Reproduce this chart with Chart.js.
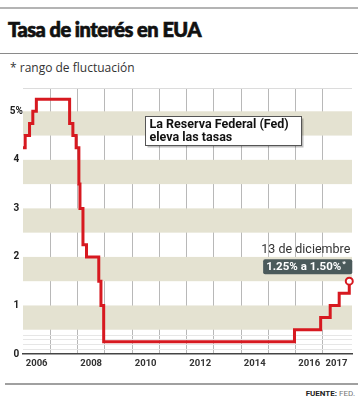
<!DOCTYPE html>
<html>
<head>
<meta charset="utf-8">
<script src="https://cdn.jsdelivr.net/npm/chart.js@4"></script>
<style>
  body { margin: 0; background: #fff; font-family: Roboto, sans-serif; }
  #wrap { position: relative; width: 358px; height: 400px; overflow: hidden; }
  .rule { position: absolute; left: 0; width: 358px; }
  #title { position: absolute; left: 8px; top: 17px; font-family: Lato, sans-serif; font-weight: 900; font-size: 20px; color: #111; letter-spacing: -0.5px; -webkit-text-stroke: 0.7px #111; }
  #sub { position: absolute; left: 10px; top: 59px; font-family: "Open Sans", sans-serif; font-size: 12px; color: #333; }
  #src { position: absolute; right: 3px; top: 389px; font-size: 8px; color: #777; }
  #src b { color: #222; }
  canvas { position: absolute; left: 0; top: 80px; }
</style>
</head>
<body>
<div id="wrap">
  <div class="rule" style="top:7px;height:2px;background:#b4b4b4"></div>
  <div id="title">Tasa de interés en EUA</div>
  <div class="rule" style="top:53px;height:1px;background:#8a8a8a"></div>
  <div id="sub">* rango de fluctuación</div>
  <canvas id="rateChart" width="358" height="300"></canvas>
  <div class="rule" style="left:5px;width:353px;top:383px;height:2px;background:#a0a0a0"></div>
  <div id="src"><b>FUENTE:</b> FED.</div>
</div>
<script>
// fechas de cambio de tasa (año decimal) y tasa objetivo (%)
const rateDates = [2006.0, 2006.08, 2006.24, 2006.36, 2006.49, 2007.71, 2007.83, 2007.95,
    2008.05, 2008.09, 2008.2, 2008.33, 2008.78, 2008.86, 2008.96, 2015.96, 2016.92,
    2017.27, 2017.6, 2017.97];
const rateValues = [4.25, 4.5, 4.75, 5.0, 5.25, 4.75, 4.5, 4.25,
    3.5, 3.0, 2.25, 2.0, 1.5, 1.0, 0.25, 0.5, 0.75,
    1.0, 1.25, 1.5];

const yearGrid = [2007, 2008, 2009, 2010, 2011, 2012, 2013, 2014, 2015, 2016, 2017];
const yearLabels = ['2006', '2008', '2010', '2012', '2014', '2016', '2017'];
const yTicks = [0, 1, 2, 3, 4, 5];
const yTickLabels = ['0', '1', '2', '3', '4', '5%'];
const faintLines = [0.1, 0.2, 0.3, 0.4];

const calloutText = ['La Reserva Federal (Fed)', 'eleva las tasas'];
const calloutAt = { x: 2010.48, y: 4.9 };
const lastDateText = '13 de diciembre';
const lastRangeText = '1.25% a 1.50%';

const points = rateDates.map((d, i) => ({ x: d, y: rateValues[i] }));

// franjas de fondo
const bandsPlugin = {
    id: 'bands',
    beforeDatasetsDraw(chart) {
        const { ctx, chartArea: a, scales: { y } } = chart;
        ctx.save();
        ctx.fillStyle = '#e4e2d1';
        yTicks.filter(v => v > 0).forEach(v => {
            const top = y.getPixelForValue(v);
            const bot = y.getPixelForValue(v - 0.5);
            ctx.fillRect(a.left, top, a.right - a.left, bot - top);
        });
        ctx.strokeStyle = '#e6e6e6';
        ctx.lineWidth = 1;
        faintLines.forEach(v => {
            const py = Math.round(y.getPixelForValue(v)) + 0.5;
            ctx.beginPath(); ctx.moveTo(a.left, py); ctx.lineTo(a.right, py); ctx.stroke();
        });
        ctx.strokeStyle = '#dcdcdc';
        ctx.beginPath(); ctx.moveTo(a.left, a.top + 0.5); ctx.lineTo(a.right, a.top + 0.5); ctx.stroke();
        ctx.restore();
    }
};

// notas
const notesPlugin = {
    id: 'notes',
    afterDatasetsDraw(chart) {
        const { ctx, scales: { x, y } } = chart;
        ctx.save();
        // recuadro
        const bx = Math.round(x.getPixelForValue(calloutAt.x)) + 0.5;
        const by = Math.round(y.getPixelForValue(calloutAt.y)) + 0.5;
        const bw = 156, bh = 29;
        ctx.fillStyle = 'rgba(0,0,0,0.25)';
        ctx.fillRect(bx + 2, by + 2, bw, bh);
        ctx.fillStyle = '#fff';
        ctx.fillRect(bx, by, bw, bh);
        ctx.strokeStyle = '#555';
        ctx.lineWidth = 1;
        ctx.strokeRect(bx, by, bw, bh);
        ctx.fillStyle = '#111';
        ctx.font = 'bold 12.5px Roboto, sans-serif';
        ctx.textAlign = 'left';
        ctx.textBaseline = 'middle';
        ctx.fillText(calloutText[0], bx + 4, by + 8);
        ctx.fillText(calloutText[1], bx + 4, by + 21);

        // último dato
        const last = points[points.length - 1];
        const px = x.getPixelForValue(last.x);
        const py = y.getPixelForValue(last.y);
        ctx.fillStyle = '#333';
        ctx.font = '12.5px Roboto, sans-serif';
        ctx.textAlign = 'right';
        ctx.textBaseline = 'alphabetic';
        ctx.fillText(lastDateText, px + 1, py - 28);

        ctx.font = 'bold 11.5px Roboto, sans-serif';
        const tw = ctx.measureText(lastRangeText).width;
        const tagR = px + 3, tagB = py - 7, tagH = 15, tagW = tw + 14;
        ctx.fillStyle = '#4b5a5b';
        ctx.beginPath();
        ctx.roundRect(tagR - tagW, tagB - tagH, tagW, tagH, 2);
        ctx.fill();
        ctx.fillStyle = '#fff';
        ctx.textAlign = 'left';
        ctx.textBaseline = 'middle';
        ctx.fillText(lastRangeText, tagR - tagW + 3, tagB - tagH / 2 + 0.5);
        ctx.font = 'bold 8px Roboto, sans-serif';
        ctx.fillText('*', tagR - tagW + 4 + tw, tagB - tagH / 2 - 3);
        ctx.restore();
    }
};

const ctx = document.getElementById('rateChart').getContext('2d');
new Chart(ctx, {
    type: 'line',
    data: {
        datasets: [{
            data: points,
            borderColor: '#d71920',
            borderWidth: 3,
            stepped: 'before',
            fill: false,
            pointRadius: c => c.dataIndex === points.length - 1 ? 3.5 : 0,
            pointBackgroundColor: '#fff',
            pointBorderColor: '#d71920',
            pointBorderWidth: 2,
            clip: false
        }]
    },
    options: {
        responsive: false,
        animation: false,
        events: [],
        layout: { padding: { top: 8, right: 3, left: 0, bottom: 0 } },
        plugins: { legend: { display: false }, tooltip: { enabled: false } },
        scales: {
            xGrid: {
                type: 'linear', position: 'bottom', min: 2006, max: 2018.07,
                afterBuildTicks: s => { s.ticks = yearGrid.map(v => ({ value: v })); },
                afterFit: s => { s.height = 0; },
                ticks: { display: false },
                border: { display: false },
                grid: { color: '#b8b8b8', lineWidth: 1, borderDash: [1, 2], drawTicks: false }
            },
            x: {
                type: 'linear', position: 'bottom', min: 2006, max: 2018.07,
                afterBuildTicks: s => { s.ticks = yearLabels.map(v => ({ value: Number(v) + 0.5 })); },
                afterFit: s => { s.height = 26; },
                grid: { display: false, drawTicks: false, tickLength: 0 },
                border: { color: '#444', width: 1.5 },
                ticks: {
                    padding: 4,
                    color: '#333',
                    font: { family: 'Roboto', weight: 'bold', size: 9.5 },
                    callback: v => String(Math.floor(v))
                }
            },
            y: {
                min: 0, max: 5.48,
                afterBuildTicks: s => { s.ticks = yTicks.map(v => ({ value: v })); },
                afterFit: s => { s.width = 23; },
                grid: { display: false, drawTicks: false, tickLength: 0 },
                border: { display: false },
                ticks: {
                    padding: 0,
                    crossAlign: 'center',
                    color: '#222',
                    font: { family: 'Roboto', weight: 'bold', size: 10 },
                    callback: (v, i) => yTickLabels[i]
                }
            }
        }
    },
    plugins: [bandsPlugin, notesPlugin]
});
</script>
</body>
</html>
